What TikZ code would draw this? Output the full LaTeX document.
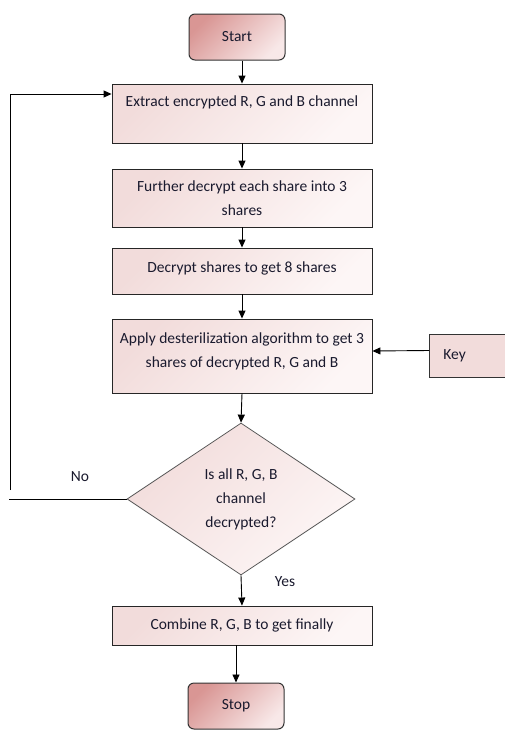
\documentclass[tikz,border=0pt]{standalone}
\usepackage{fontspec}
\setmainfont{Carlito}
\usetikzlibrary{shapes.geometric,arrows.meta}
\definecolor{pinkA}{HTML}{F2DCDB}
\definecolor{pinkB}{HTML}{FDF6F6}
\definecolor{roseA}{HTML}{D99694}
\definecolor{roseB}{HTML}{F8E8E8}
\definecolor{txt}{HTML}{1A1A2E}
\tikzset{
  procbox/.style={draw=black!85, line width=0.9pt, top color=pinkA, bottom color=pinkB, shading angle=45,
    minimum width=260pt, align=center, inner sep=2pt, text=txt},
  termbox/.style={draw=black!80, line width=1pt, rounded corners=6pt, top color=roseA, bottom color=roseB, shading angle=45,
    minimum width=96pt, minimum height=46pt, text=txt},
  decbox/.style={diamond, draw=black!65, line width=0.8pt, top color=pinkA, bottom color=pinkB, shading angle=45,
    minimum width=228pt, minimum height=152pt, inner sep=0pt, align=center, text=txt},
  keybox/.style={draw=black!80, line width=0.9pt, fill=pinkA, minimum height=43pt, text=txt},
  arr/.style={-{Triangle[length=8pt,width=7pt]}, line width=0.9pt},
  lbl/.style={text=txt}
}
\begin{document}
\begin{tikzpicture}[x=1pt,y=-1pt, font=\fontsize{15.5}{24}\selectfont]
\useasboundingbox (0,0) rectangle (505,731);
\clip (0,0) rectangle (505,731);
\fill[white] (0,0) rectangle (505,731);

\node[termbox] (start) at (237,37) {Start};
\node[procbox, minimum height=59pt] (b1) at (242,113.5) {Extract encrypted R, G and B channel\\\mbox{}};
\node[procbox, minimum height=58pt] (b2) at (242,198) {Further decrypt each share into 3\\shares};
\node[procbox, minimum height=46pt] (b3) at (242,271) {Decrypt shares to get 8 shares\rule[-8pt]{0pt}{0pt}};
\node[procbox, minimum height=74pt] (b4) at (242,356) {Apply desterilization algorithm to get 3\\shares of decrypted R, G and B\rule[-12pt]{0pt}{0pt}};
\node[keybox, anchor=west, minimum width=150pt, text width=122pt, inner xsep=14pt, align=left] (key) at (429,355.5) {Key};
\node[decbox] (dec) at (241,499) {Is all R, G, B\\channel\\decrypted?};
\node[procbox, minimum height=39pt] (b5) at (242,625.5) {Combine R, G, B to get finally};
\node[termbox] (stop) at (236,706) {Stop};

\node[lbl] (no) at (80,477) {No};
\node[lbl] (yes) at (285,582) {Yes};

\draw[arr] (start.south -| b1.north) -- (b1.north);
\draw[arr] (b1.south) -- (b2.north);
\draw[arr] (b2.south) -- (b3.north);
\draw[arr] (b3.south) -- (b4.north);
\draw[arr] (b4.south) -- (dec.north);
\draw[arr] (dec.south) -- (b5.north);
\draw[arr] (b5.south -| stop.north) -- (stop.north);
\draw[arr] ([yshift=5pt]key.west) -- ([yshift=5pt]b4.east);

\coordinate (lpa) at (9,499);
\coordinate (lpb) at (10,490);
\coordinate (lpc) at (10,94);
\draw[line width=0.9pt] (dec.west) -- (lpa);
\draw[arr] (lpb) -- (lpc) -- (lpc -| b1.west);
\end{tikzpicture}
\end{document}
